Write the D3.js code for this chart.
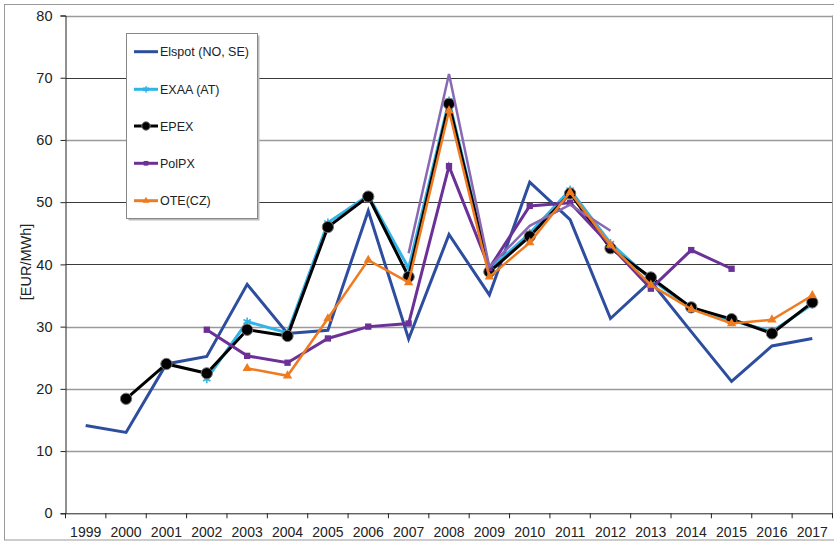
<!DOCTYPE html>
<html>
<head>
<meta charset="utf-8">
<script src="https://cdn.jsdelivr.net/npm/d3@7"></script>
<style>
  body { margin: 0; background: #fff; }
  svg text { font-family: "Liberation Sans", Arial, sans-serif; fill: #222; }
</style>
</head>
<body>
<svg id="chart" width="834" height="542"></svg>
<script>
// data
let years = ["1999", "2000", "2001", "2002", "2003", "2004", "2005", "2006", "2007", "2008",
             "2009", "2010", "2011", "2012", "2013", "2014", "2015", "2016", "2017"];
let elspot = [14.1, 13.0, 24.0, 25.2, 36.8, 28.9, 29.4, 48.6, 28.0, 44.8, 35.1, 53.2, 47.2, 31.3, 37.3, 29.2, 21.2, 26.9, 28.1];
let exaa = [null, null, null, 21.6, 30.8, 29.0, 46.7, 51.1, 39.4, 66.3, 39.2, 45.0, 52.0, 43.4, 37.6, 33.0, 31.0, 29.2, 33.6];
let epex = [null, 18.4, 24.0, 22.5, 29.5, 28.5, 46.0, 50.9, 38.0, 65.8, 38.8, 44.5, 51.4, 42.6, 37.9, 33.1, 31.2, 28.9, 33.9];
let polpx = [null, null, null, 29.5, 25.3, 24.2, 28.1, 30.0, 30.5, 55.8, 39.4, 49.4, 49.9, 43.0, 36.1, 42.3, 39.3, null, null];
let polpxExtra = [null, null, null, null, null, null, null, null, 41.8, 70.6, 39.6, 46.2, 49.6, 45.4, null, null, null, null, null];
let ote = [null, null, null, null, 23.3, 22.1, 31.3, 40.7, 37.1, 64.7, 38.0, 43.5, 51.6, 43.1, 36.7, 32.8, 30.5, 31.1, 35.0];
let yTicks = [0, 10, 20, 30, 40, 50, 60, 70, 80];
let yLabel = "[EUR/MWh]";

//dimensions
let plotLeft = 65.5, plotRight = 832.5, plotTop = 15.5, plotBottom = 513.3;

let svg = d3.select("#chart");

// outer frame of the picture
svg.append("rect")
    .attr("x", 4.5).attr("y", 4.5)
    .attr("width", 850).attr("height", 535.5)
    .attr("fill", "none").attr("stroke", "#999");

let x = d3.scaleBand().domain(years).range([plotLeft, plotRight]);
let y = d3.scaleLinear().domain([0, 80]).range([plotBottom, plotTop]);

/**
 * gridlines - some darker than others in the source
 */
let darkGrid = [40, 50, 70];
svg.append("g")
    .selectAll("line")
    .data(yTicks.filter(function (d) { return d > 0; }))
    .enter()
    .append("line")
    .attr("x1", plotLeft).attr("x2", plotRight)
    .attr("y1", function (d) { return Math.round(y(d)) + 0.5; })
    .attr("y2", function (d) { return Math.round(y(d)) + 0.5; })
    .attr("stroke", function (d) { return darkGrid.includes(d) ? "#3a3a3a" : "#9a9a9a"; })
    .attr("stroke-width", function (d) { return darkGrid.includes(d) ? 1.2 : 1.6; });

// right edge of plot
svg.append("line")
    .attr("x1", plotRight).attr("x2", plotRight)
    .attr("y1", plotTop).attr("y2", plotBottom)
    .attr("stroke", "#999");

// y axis
let yAxis = svg.append("g")
    .attr("transform", "translate(" + plotLeft + ",0)")
    .call(d3.axisLeft(y).tickValues(yTicks).tickSize(5).tickPadding(8));
yAxis.selectAll("text").style("font-size", "14.5px");
yAxis.selectAll("line, path").attr("stroke", "#222");

svg.append("text")
    .attr("transform", "translate(31,262) rotate(-90)")
    .attr("text-anchor", "middle")
    .style("font-size", "14.5px")
    .text(yLabel);

// x axis - labels centred in bands, ticks on the band edges
let xAxis = svg.append("g")
    .attr("transform", "translate(0," + plotBottom + ")")
    .call(d3.axisBottom(x).tickSize(0).tickPadding(13.3));
xAxis.selectAll("text").style("font-size", "14px");
xAxis.select("path").attr("stroke", "#222");

svg.append("g")
    .selectAll("line")
    .data(years.map(function (d) { return x(d); }).concat([plotRight]))
    .enter()
    .append("line")
    .attr("x1", function (d) { return d; }).attr("x2", function (d) { return d; })
    .attr("y1", plotBottom).attr("y2", plotBottom + 5)
    .attr("stroke", "#222");

/**
 * the series, in the order they are stacked
 */
let series = [
    { name: "Elspot (NO, SE)", values: elspot, color: "#2d4e9e", width: 3, symbol: null },
    { name: "EXAA (AT)", values: exaa, color: "#31b4e6", width: 3, symbol: d3.symbolAsterisk },
    { name: "EPEX", values: epex, color: "#000000", width: 3, symbol: d3.symbolCircle },
    { name: "PolPX", values: polpx, color: "#6b3197", width: 3, symbol: d3.symbolSquare },
    { name: null, values: polpxExtra, color: "#8968b4", width: 2.5, symbol: null },
    { name: "OTE(CZ)", values: ote, color: "#ef7b21", width: 2.5, symbol: d3.symbolTriangle }
];

function markerSize(s) {
    if (s === d3.symbolCircle) return 100;
    if (s === d3.symbolSquare) return 40;
    if (s === d3.symbolTriangle) return 38;
    return 50;
}

function drawMarker(g, s, cx, cy, scale) {
    let path = d3.symbol().type(s.symbol).size(markerSize(s.symbol) * scale)();
    let m = g.append("path")
        .attr("d", path)
        .attr("transform", "translate(" + cx + "," + cy + ")");
    if (s.symbol === d3.symbolAsterisk) {
        m.attr("fill", "none").attr("stroke", s.color).attr("stroke-width", 1.6);
    } else if (s.symbol === d3.symbolCircle) {
        m.attr("fill", "#000").attr("stroke", "#777").attr("stroke-width", 1);
    } else {
        m.attr("fill", s.color);
    }
}

let line = d3.line()
    .defined(function (d) { return d.v !== null; })
    .x(function (d) { return x(d.year) + x.bandwidth() / 2; })
    .y(function (d) { return y(d.v); });

series.forEach(function (s) {
    let pts = years.map(function (yr, i) { return { year: yr, v: s.values[i] }; });
    let g = svg.append("g");
    g.append("path")
        .datum(pts)
        .attr("d", line)
        .attr("fill", "none")
        .attr("stroke", s.color)
        .attr("stroke-width", s.width)
        .attr("stroke-linejoin", "miter");
    if (s.symbol) {
        pts.filter(function (d) { return d.v !== null; }).forEach(function (d) {
            drawMarker(g, s, x(d.year) + x.bandwidth() / 2, y(d.v), 1);
        });
    }
});

/**
 * Legend
 */
let legend = svg.append("g");
legend.append("rect")
    .attr("x", 128.5).attr("y", 35.5).attr("width", 131).attr("height", 185)
    .attr("fill", "#bbb");
legend.append("rect")
    .attr("x", 126.5).attr("y", 33.5).attr("width", 131).attr("height", 185)
    .attr("fill", "#fff").attr("stroke", "#888");

let legendRows = [51.7, 89.3, 126, 163.3, 200.7];
series.filter(function (s) { return s.name; }).forEach(function (s, i) {
    let ly = legendRows[i];
    legend.append("line")
        .attr("x1", 134).attr("x2", 158)
        .attr("y1", ly).attr("y2", ly)
        .attr("stroke", s.color).attr("stroke-width", 3);
    if (s.symbol) drawMarker(legend, s, 146, ly, 0.55);
    legend.append("text")
        .attr("x", 160).attr("y", ly + 4.5)
        .style("font-size", "12.5px")
        .text(s.name);
});
</script>
</body>
</html>
